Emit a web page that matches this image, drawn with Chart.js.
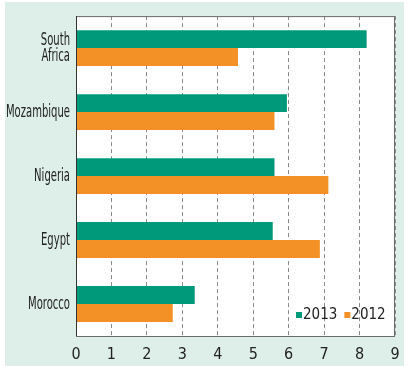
<!DOCTYPE html>
<html>
<head>
<meta charset="utf-8">
<script src="https://cdn.jsdelivr.net/npm/chart.js@4/dist/chart.umd.min.js"></script>
<style>
  html, body { margin: 0; padding: 0; background: #fff; }
  #box { position: absolute; left: 5px; top: 2px; width: 399px; height: 364px; background: #deefea; }
</style>
</head>
<body>
<div id="box"><canvas id="chart" width="399" height="364"></canvas></div>
<script>
const countries = [["South", "Africa"], "Mozambique", "Nigeria", "Egypt", "Morocco"];
const values2013 = [8.2, 5.95, 5.6, 5.55, 3.35];
const values2012 = [4.57, 5.6, 7.12, 6.88, 2.73];
const xTicks = [0, 1, 2, 3, 4, 5, 6, 7, 8, 9];

const green = '#009a7a';
const orange = '#f39127';
const fontFamily = '"DejaVu Sans Condensed", "DejaVu Sans", sans-serif';

// white plot area, frame, and legend inside the plot
const frame = {
  id: 'frame',
  beforeDraw(chart) {
    const { ctx, chartArea: a } = chart;
    ctx.save();
    ctx.fillStyle = '#fff';
    ctx.fillRect(a.left, a.top, a.right - a.left, a.bottom - a.top);
    ctx.restore();
  },
  afterDraw(chart) {
    const { ctx, chartArea: a } = chart;
    ctx.save();
    ctx.strokeStyle = '#6b6b6b';
    ctx.lineWidth = 1;
    ctx.strokeRect(a.left + 0.5, a.top + 0.5, a.right - a.left - 1, a.bottom - a.top);
    ctx.strokeStyle = '#333';
    ctx.beginPath();
    ctx.moveTo(a.left + 0.5, a.top);
    ctx.lineTo(a.left + 0.5, a.bottom);
    ctx.stroke();

    // legend
    ctx.font = 'condensed 15px ' + fontFamily;
    ctx.textBaseline = 'middle';
    const y = a.bottom - 21;
    let x = a.left + 220;
    chart.data.datasets.forEach(ds => {
      ctx.fillStyle = ds.backgroundColor;
      ctx.fillRect(x, y - 3, 6, 6);
      ctx.fillStyle = '#222';
      ctx.fillText(ds.label, x + 7, y);
      x += 7 + ctx.measureText(ds.label).width + 7;
    });
    ctx.restore();
  }
};

// squeeze the category labels horizontally, anchored at their right edge
function narrowLabels(scale) {
  scale.width = 71;
  if (scale._narrowed) return;
  scale._narrowed = true;
  scale._computeLabelArea = () => undefined;
  const draw = scale.drawLabels.bind(scale);
  scale.drawLabels = function (area) {
    const ctx = this.ctx;
    const xr = this.right - 6;
    ctx.save();
    ctx.translate(xr, 0);
    ctx.scale(0.62, 1);
    ctx.translate(-xr, 0);
    draw(area);
    ctx.restore();
  };
}

new Chart(document.getElementById('chart'), {
  type: 'bar',
  data: {
    labels: countries,
    datasets: [
      { label: '2013', data: values2013, backgroundColor: green },
      { label: '2012', data: values2012, backgroundColor: orange }
    ]
  },
  options: {
    indexAxis: 'y',
    responsive: false,
    animation: false,
    layout: { padding: { top: 11, right: 9, left: 0, bottom: 0 } },
    datasets: { bar: { categoryPercentage: 0.56, barPercentage: 1.0 } },
    plugins: { legend: { display: false }, tooltip: { enabled: false } },
    scales: {
      x: {
        min: 0,
        max: 9,
        afterBuildTicks: scale => { scale.ticks = xTicks.map(v => ({ value: v })); },
        afterFit: scale => { scale.height = 30; scale.paddingLeft = 0; scale.paddingRight = 0; },
        grid: { color: '#8a8a8a', drawTicks: false },
        border: { display: false, dash: [4, 3] },
        ticks: { color: '#222', padding: 9, font: { family: fontFamily, weight: 'condensed', size: 16 } }
      },
      y: {
        afterFit: narrowLabels,
        grid: { display: false, drawTicks: false },
        border: { display: false },
        ticks: { color: '#222', padding: 6, font: { family: fontFamily, weight: 'condensed', size: 18, lineHeight: 0.9 } }
      }
    }
  },
  plugins: [frame]
});
</script>
</body>
</html>
